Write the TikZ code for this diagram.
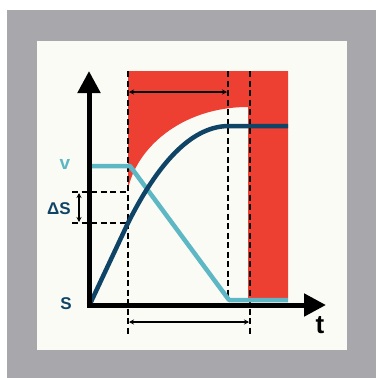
\documentclass[tikz,border=0pt]{standalone}
\usepackage{fontspec}
\setmainfont{Liberation Sans}
\usetikzlibrary{arrows.meta}
\definecolor{bggray}{HTML}{A8A7AC}
\definecolor{cream}{HTML}{FBFBF6}
\definecolor{redc}{HTML}{EE3F33}
\definecolor{darkb}{HTML}{0F4466}
\definecolor{cyanc}{HTML}{5DB7C4}
\tikzset{
  axisline/.style={line width=5pt,-{Triangle[width=22pt,length=22pt]}},
  dashln/.style={line width=1.9pt,dash pattern=on 6pt off 3.5pt},
  dimln/.style={line width=1.4pt,{Stealth[length=5pt,width=5pt]}-{Stealth[length=5pt,width=5pt]}},
  curvesln/.style={line width=4.5pt,line join=round},
  lbl/.style={font=\bfseries\fontsize{17}{17}\selectfont,inner sep=0pt}
}
\begin{document}
\begin{tikzpicture}[x=1pt,y=-1pt]
\useasboundingbox (0,0) rectangle (376,378);
\fill[white] (0,0) rectangle (376,378);
\fill[bggray] (7,10) rectangle (376,378);
\fill[cream] (37,41) rectangle (347,350);
% red area
\fill[redc] (128,71) -- (288,71) -- (288,298) -- (248,298) -- (248,107)
  .. controls (180,107) and (135,150) .. (128,190) -- cycle;
% coordinates
\coordinate (o) at (89,305);
\coordinate (ytip) at (89,71);
\coordinate (xtip) at (326,305);
\coordinate (ybot) at (89,307.5);
\coordinate (xleft) at (86.5,305);
\coordinate (d1t) at (128,71);
\coordinate (d1b) at (128,334);
\coordinate (d2t) at (228,71);
\coordinate (d2b) at (228,300);
\coordinate (d3t) at (250,71);
\coordinate (d3b) at (250,334);
\coordinate (h1l) at (72,192);
\coordinate (h1r) at (128,192);
\coordinate (h2l) at (72,223);
\coordinate (h2r) at (128,223);
% dashed lines
\draw[dashln] (d1t) -- (d1b);
\draw[dashln] (d2t) -- (d2b);
\draw[dashln] (d3t) -- (d3b);
\draw[dashln] (h1l) -- (h1r);
\draw[dashln] (h2l) -- (h2r);
% dimension lines
\coordinate (ta) at (129,92);
\coordinate (tb) at (227,92);
\coordinate (ba) at (129,322);
\coordinate (bb) at (249,322);
\coordinate (sa) at (79,193);
\coordinate (sb) at (79,222);
\draw[dimln] (ta) -- (tb);
\draw[dimln] (ba) -- (bb);
\draw[dimln] (sa) -- (sb);
% velocity curve
\coordinate (v0) at (91,166);
\coordinate (v1) at (130,166);
\coordinate (v2) at (229,300);
\coordinate (v3) at (288,300);
\draw[curvesln,cyanc] (v0) -- (v1) -- (v2) -- (v3);
% distance curve
\coordinate (s0) at (90,304);
\coordinate (s1) at (128,223);
\coordinate (s2) at (229,126);
\coordinate (s3) at (288,126);
\draw[curvesln,darkb] (s0) -- (s1) .. controls (161.7,156) and (195.3,126) .. (s2) -- (s3);
% axes
\draw[axisline] (ybot) -- (ytip);
\draw[axisline] (xleft) -- (xtip);
% labels
\node[lbl,text=cyanc,font=\bfseries\fontsize{19}{19}\selectfont] (lv) at (65,164) {v};
\node[lbl,text=darkb] (lds) at (59,209) {ΔS};
\node[lbl,text=darkb] (ls) at (66,304) {S};
\node[font=\bfseries\fontsize{26}{26}\selectfont,inner sep=0pt] (lt) at (320,325) {t};
\end{tikzpicture}
\end{document}
